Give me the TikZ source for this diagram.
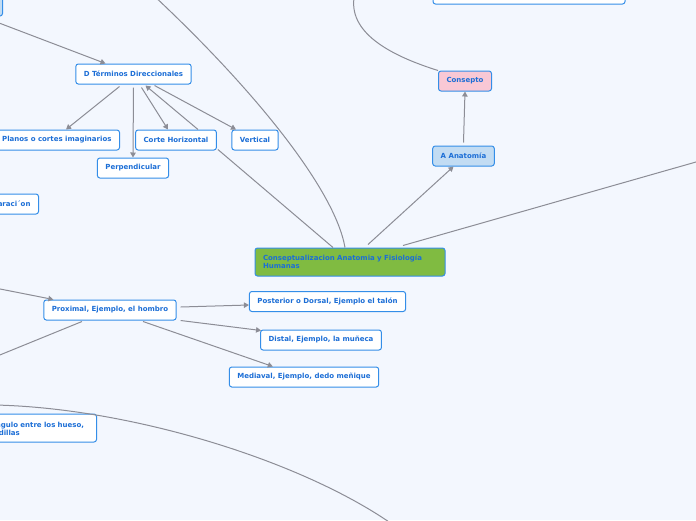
\documentclass[tikz,border=0pt]{standalone}
\usepackage{fontspec}
\setmainfont{DejaVu Sans}
\usetikzlibrary{arrows.meta,calc}
\definecolor{bgcol}{RGB}{243,247,254}
\definecolor{nodeblue}{RGB}{52,142,232}
\definecolor{textblue}{RGB}{28,110,214}
\definecolor{linkgray}{RGB}{140,141,150}
\definecolor{nodegreen}{RGB}{128,187,65}
\definecolor{nodepink}{RGB}{249,200,213}
\definecolor{nodelblue}{RGB}{194,220,243}
\begin{document}
\begin{tikzpicture}[x=1pt,y=-1pt,
  box/.style={draw=nodeblue,line width=1pt,rounded corners=2.5pt,fill=white,text=textblue,
    font=\bfseries\fontsize{7}{7.7}\selectfont,inner xsep=8pt,inner ysep=0pt,minimum height=20pt},
  link/.style={draw=linkgray,line width=1pt},
  arr/.style={link,-{Triangle[width=5.5pt,length=5pt]}}]

% Background and page size
\fill[bgcol] (0,0) rectangle (696,520);
\useasboundingbox (0,0) rectangle (696,520);

% Free ends of connectors leaving the page
\coordinate (topA) at (151,-7);
\coordinate (topB) at (354,-2);
\coordinate (rightA) at (710,158);
\coordinate (leftA) at (-10,287);
\coordinate (leftB) at (-10,359);
\coordinate (botA) at (-5,405);
\coordinate (botB) at (392,524);

% Nodes
\node[box,fill=nodelblue,anchor=east,minimum width=60pt] (topnode) at (3,6) {};
\node[box,minimum width=192pt] (topright) at (529,-6) {};
\node[box] (D) at (133.5,74) {D Términos Direccionales};
\node[box,anchor=east] (planos) at (120,140) {C. Planos o cortes imaginarios};
\node[box] (corte) at (176,140) {Corte Horizontal};
\node[box] (vertical) at (255,140) {Vertical};
\node[box] (perp) at (133,168) {Perpendicular};
\node[box,anchor=east] (separ) at (39,204) {Separaci´on};
\node[box,fill=nodepink] (consepto) at (465,81) {Consepto};
\node[box,fill=nodelblue] (anatomia) at (463.5,156) {A Anatomía};
\node[box,fill=nodegreen,text width=174pt,align=left,minimum height=28pt] (central) at (350,262)
  {Conseptualizacion Anatomia y Fisiología\\Humanas};
\node[box] (posterior) at (327.5,301.5) {Posterior o Dorsal, Ejemplo el talón};
\node[box] (distal) at (321,340) {Distal, Ejemplo, la muñeca};
\node[box] (medial) at (304,377) {Mediaval, Ejemplo, dedo meñique};
\node[box] (proximal) at (110,310) {Proximal, Ejemplo, el hombro};
\node[box,anchor=east,text width=98pt,align=left,minimum height=28pt] (angulo) at (97,428)
  {Ángulo entre los hueso,\\rodillas};

% Connectors around D
\draw[arr] ($(topnode.south east)+(-21,0)$) -- ($(D.north)+(-28,0)$);
\draw[arr] ($(D.south)+(-14,2)$) -- ($(planos.north east)+(-54,0)$);
\draw[arr] ($(D.south)+(0,3)$) -- (perp.north);
\draw[arr] ($(D.south)+(8,3)$) -- ($(corte.north)+(-8,0)$);
\draw[arr] ($(corte.north)+(22,0)$) -- ($(D.south)+(12,1)$);
\draw[arr] ($(D.south)+(21,1)$) -- ($(vertical.north)+(-19,0)$);

% Connectors of the central node
\draw[link] ($(corte.south east)+(1,-1)$) -- ($(central.north)+(-17,0)$);
\draw[link] (topA) .. controls (255,90) and (335,190) .. ($(central.north)+(-5,0)$);
\draw[arr] ($(central.north)+(18,-3)$) -- ($(anatomia.south)+(-10,0)$);
\draw[arr] ($(anatomia.north)+(0,-3)$) -- (consepto.south);
\draw[link] (topB) .. controls (349,35) and (395,57) .. (consepto.north west);
\draw[link] ($(central.north)+(53,-2)$) -- (rightA);

% Connectors of the proximal node
\draw[arr] (leftA) -- ($(proximal.north west)+(10,0)$);
\draw[arr] ($(proximal.east)+(4,-3)$) -- ($(posterior.west)+(0,3.5)$);
\draw[arr] ($(proximal.south east)+(4,0)$) -- ($(distal.north west)+(1,1)$);
\draw[arr] ($(proximal.south)+(33,1)$) -- ($(medial.north west)+(44,0)$);
\draw[link] ($(proximal.south)+(-28,1)$) -- (leftB);

% Lower curve
\draw[link] (botA) .. controls (130,408) and (300,460) .. (botB);

\end{tikzpicture}
\end{document}
